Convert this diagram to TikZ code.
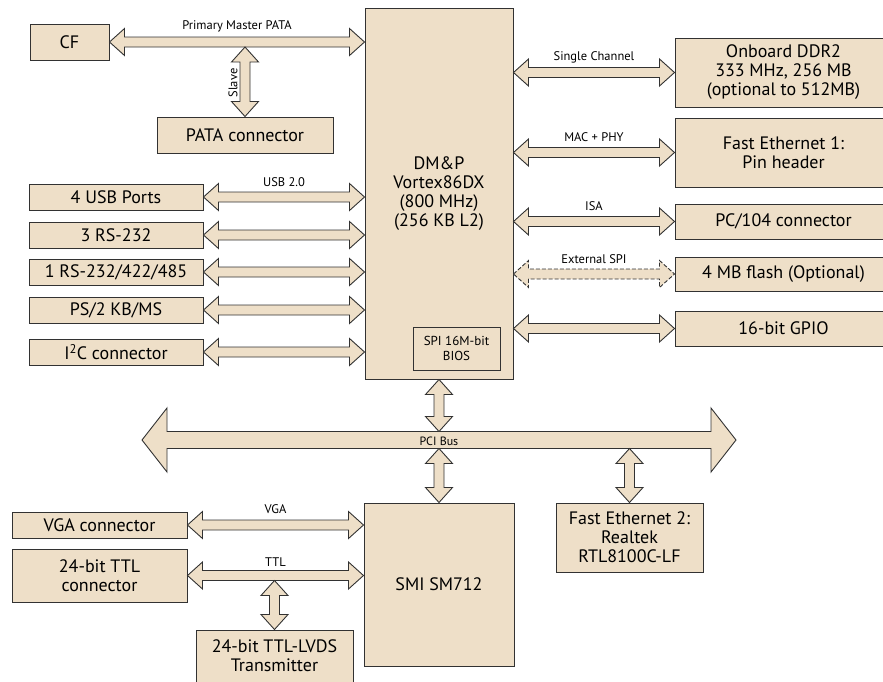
\documentclass[tikz,border=0pt]{standalone}
\usepackage{fontspec}
\setmainfont{PT Sans}
\usetikzlibrary{calc}

\definecolor{boxfill}{RGB}{238,223,200}
\definecolor{boxline}{RGB}{50,50,50}

% double headed block arrow: from, to, head length, head half width, shaft half width
\newcommand{\bus}[6][]{%
	\coordinate (ba) at (#2);
	\coordinate (bb) at (#3);
	\filldraw[busline,#1] (ba) -- ($(ba)!#4!(bb)!#5!90:(bb)$) -- ($(ba)!#4!(bb)!#6!90:(bb)$)
		-- ($(bb)!#4!(ba)!#6!-90:(ba)$) -- ($(bb)!#4!(ba)!#5!-90:(ba)$) -- (bb)
		-- ($(bb)!#4!(ba)!#5!90:(ba)$) -- ($(bb)!#4!(ba)!#6!90:(ba)$)
		-- ($(ba)!#4!(bb)!#6!-90:(bb)$) -- ($(ba)!#4!(bb)!#5!-90:(bb)$) -- cycle;}
\newcommand{\link}[3][]{\bus[#1]{#2}{#3}{15pt}{13.5pt}{5pt}}

\begin{document}
\begin{tikzpicture}[x=1pt,y=-1pt,
	unit/.style={draw=boxline, fill=boxfill, line width=1pt, align=center, inner sep=0pt,
		font=\fontsize{18}{19}\selectfont},
	busline/.style={draw=boxline, fill=boxfill, line width=0.9pt, line join=miter},
	buslabel/.style={font=\fontsize{12.5}{14}\selectfont, inner sep=1pt}]
	\clip (0,0) rectangle (883,681);

	% left side
	\node[unit, minimum width=79pt, minimum height=36pt] (cf) at (69.5,42) {CF};
	\node[unit, minimum width=176pt, minimum height=36pt] (pata) at (245,135) {PATA connector};
	\node[unit, minimum width=174pt, minimum height=26pt] (usb) at (116,197) {4 USB Ports};
	\node[unit, minimum width=174pt, minimum height=26pt] (rsa) at (116,235) {3 RS-232};
	\node[unit, minimum width=174pt, minimum height=26pt] (rsb) at (116,272) {1 RS-232/422/485};
	\node[unit, minimum width=174pt, minimum height=26pt] (ps2) at (116,310) {PS/2 KB/MS};
	\node[unit, minimum width=174pt, minimum height=26pt] (i2c) at (116,352) {I\textsuperscript{2}C connector};

	% processor
	\node[unit, minimum width=148pt, minimum height=371pt] (dmp) at (439,193.5)
		{DM\&P\\Vortex86DX\\(800 MHz)\\(256 KB L2)};
	\node[unit, minimum width=87pt, minimum height=43pt, font=\fontsize{13}{15}\selectfont] (bios)
		at (456.5,348.5) {SPI 16M-bit\\BIOS};

	% right side
	\node[unit, minimum width=217pt, minimum height=69pt] (ddr) at (783.5,72.5)
		{Onboard DDR2\\333 MHz, 256 MB\\(optional to 512MB)};
	\node[unit, minimum width=217pt, minimum height=69pt] (eth) at (783.5,152.5)
		{Fast Ethernet 1:\\Pin header};
	\node[unit, minimum width=217pt, minimum height=35pt] (pc104) at (783.5,221.5) {PC/104 connector};
	\node[unit, minimum width=217pt, minimum height=34pt] (flash) at (783.5,274) {4 MB flash (Optional)};
	\node[unit, minimum width=217pt, minimum height=35pt] (gpio) at (783.5,328.5) {16-bit GPIO};

	% bottom
	\node[unit, minimum width=150pt, minimum height=163pt] (smi) at (439,584.5) {SMI SM712};
	\node[unit, minimum width=147pt, minimum height=69pt] (ethb) at (629.5,537.5)
		{Fast Ethernet 2:\\Realtek\\RTL8100C-LF};
	\node[unit, minimum width=175pt, minimum height=26pt] (vga) at (99.5,525) {VGA connector};
	\node[unit, minimum width=175pt, minimum height=53pt] (ttl) at (99.5,575.5) {24-bit TTL\\connector};
	\node[unit, minimum width=157pt, minimum height=52pt] (lvds) at (274.5,656) {24-bit TTL-LVDS\\Transmitter};

	% buses
	\coordinate (pcil) at (142,440);
	\coordinate (pcir) at (736,440);
	\bus{pcil}{pcir}{25pt}{32pt}{8.5pt}
	\node[buslabel, font=\fontsize{12}{14}\selectfont] (lpci) at ($(pcil)!0.5!(pcir)+(0,1)$) {PCI Bus};

	\link{cf.east}{dmp.west |- cf.east}
	\link{$(pata.north |- cf.east)+(0,5)$}{pata.north}
	\link{usb.east}{dmp.west |- usb.east}
	\link{rsa.east}{dmp.west |- rsa.east}
	\link{rsb.east}{dmp.west |- rsb.east}
	\link{ps2.east}{dmp.west |- ps2.east}
	\link{i2c.east}{dmp.west |- i2c.east}

	\link{dmp.east |- ddr.west}{ddr.west}
	\link{dmp.east |- eth.west}{eth.west}
	\link{dmp.east |- pc104.west}{pc104.west}
	\link[dash pattern=on 4pt off 2pt]{dmp.east |- flash.west}{flash.west}
	\link{dmp.east |- gpio.west}{gpio.west}

	\link{dmp.south}{$(dmp.south |- pcil)+(0,-8.5)$}
	\link{$(smi.north |- pcil)+(0,8.5)$}{smi.north}
	\link{$(ethb.north |- pcil)+(0,8.5)$}{ethb.north}
	\link{vga.east}{smi.west |- vga.east}
	\link{ttl.east}{smi.west |- ttl.east}
	\link{$(lvds.north |- ttl.east)+(0,5)$}{lvds.north}

	% labels
	\node[buslabel] (lpata) at ($(cf.east)!0.5!(dmp.west |- cf.east)+(0,-16)$) {Primary Master PATA};
	\node[buslabel, rotate=90] (lslave) at (233,83) {Slave};
	\node[buslabel] (lusb) at ($(usb.east)!0.5!(dmp.west |- usb.east)+(0,-15)$) {USB 2.0};
	\node[buslabel] (lddr) at ($(dmp.east |- ddr.west)!0.5!(ddr.west)+(0,-15)$) {Single Channel};
	\node[buslabel] (leth) at ($(dmp.east |- eth.west)!0.5!(eth.west)+(0,-15)$) {MAC + PHY};
	\node[buslabel] (lisa) at ($(dmp.east |- pc104.west)!0.5!(pc104.west)+(0,-15)$) {ISA};
	\node[buslabel] (lspi) at ($(dmp.east |- flash.west)!0.5!(flash.west)+(0,-15)$) {External SPI};
	\node[buslabel] (lvga) at ($(vga.east)!0.5!(smi.west |- vga.east)+(0,-16)$) {VGA};
	\node[buslabel] (lttl) at ($(ttl.east)!0.5!(smi.west |- ttl.east)+(0,-13)$) {TTL};
\end{tikzpicture}
\end{document}
